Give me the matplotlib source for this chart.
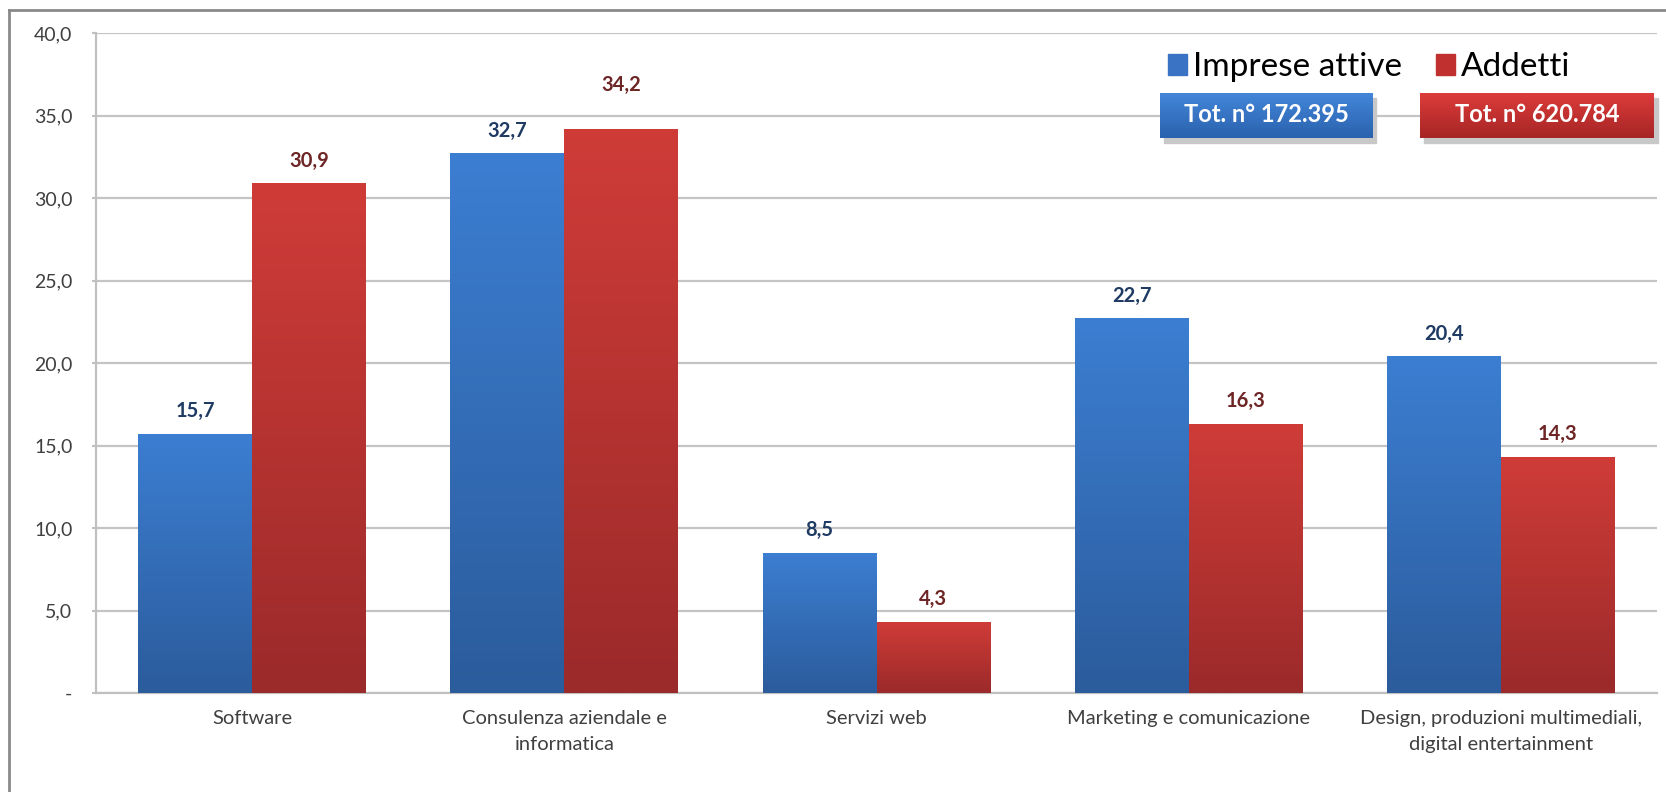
import numpy as np
import matplotlib
matplotlib.use("Agg")
import matplotlib.pyplot as plt
from matplotlib.colors import LinearSegmentedColormap
from matplotlib.patches import Rectangle
from matplotlib.lines import Line2D

plt.rcParams['font.family'] = ['Lato', 'DejaVu Sans']

categories = ['Software', 'Consulenza aziendale e\ninformatica', 'Servizi web',
              'Marketing e comunicazione', 'Design, produzioni multimediali,\ndigital entertainment']
imprese = [15.7, 32.7, 8.5, 22.7, 20.4]
addetti = [30.9, 34.2, 4.3, 16.3, 14.3]
series_names = ['Imprese attive', 'Addetti']
totals = ['Tot. n° 172.395', 'Tot. n° 620.784']

W, H = 1666, 792
fig = plt.figure(figsize=(W / 100, H / 100), dpi=100)
ax = fig.add_axes([96 / W, 1 - 693 / H, (1657 - 96) / W, (693 - 33) / H])

blue_cmap = LinearSegmentedColormap.from_list('b', ['#2b5c9c', '#3c7ed2'])
red_cmap = LinearSegmentedColormap.from_list('r', ['#9b2a2a', '#cf3c38'])
grad = np.linspace(0, 1, 256).reshape(-1, 1)

x = np.arange(len(categories))
w = 0.365
b1 = ax.bar(x - w / 2, imprese, w, color='#3a72c4', zorder=2)
b2 = ax.bar(x + w / 2, addetti, w, color='#c0302e', zorder=2)

# gradient fill, clipped to each bar
for bars, cmap in [(b1, blue_cmap), (b2, red_cmap)]:
    for bar in bars:
        x0 = bar.get_x()
        im = ax.imshow(grad, extent=[x0, x0 + bar.get_width(), 0, bar.get_height()],
                       origin='lower', aspect='auto', cmap=cmap, zorder=3)
        im.set_clip_path(bar)

# value labels (the 34,2 label sits higher in the original, above the gridline)
for k, (bars, col) in enumerate([(b1, '#1f3a63'), (b2, '#6e2525')]):
    for i, bar in enumerate(bars):
        v = bar.get_height()
        dy = 27 if (k == 1 and i == 1) else 12
        ax.annotate(f'{v:.1f}'.replace('.', ','), (bar.get_x() + bar.get_width() / 2, v),
                    xytext=(0, dy), textcoords='offset points', ha='center', va='baseline',
                    fontsize=14.5, fontweight='bold', color=col, zorder=4)

ax.set_xlim(-0.5, len(categories) - 0.5)
ax.set_ylim(0, 40)
ax.set_yticks(np.arange(0, 41, 5))
ax.yaxis.set_major_formatter(plt.FuncFormatter(
    lambda v, p: '-' if v == 0 else f'{v:.1f}'.replace('.', ',')))
ax.set_xticks(x)
ax.set_xticklabels(categories, fontsize=14.5, color='#404040', linespacing=1.7)
ax.tick_params(axis='x', length=0, pad=12)
ax.tick_params(axis='y', labelsize=14, labelcolor='#404040', length=3, color='#c0c0c0',
               width=1.5, pad=14)
ax.grid(axis='y', color='#c4c4c4', linewidth=1.6, zorder=0)
ax.set_axisbelow(True)
for s in ['top', 'right']:
    ax.spines[s].set_visible(False)
for s in ['left', 'bottom']:
    ax.spines[s].set_color('#c0c0c0')
    ax.spines[s].set_linewidth(1.6)

# legend
handles = [Rectangle((0, 0), 1, 1, color='#3a72c4'), Rectangle((0, 0), 1, 1, color='#c0302e')]
fig.legend(handles, series_names, loc='center left', bbox_to_anchor=(1168 / W, 1 - 67 / H),
           ncol=2, frameon=False, fontsize=24, handlelength=0.58, handleheight=0.58,
           handletextpad=0.18, columnspacing=1.0, borderpad=0, borderaxespad=0)

# total boxes with gradient and shadow
def total_box(x0, x1, y0, y1, cmap, label):
    fig.add_artist(Rectangle(((x0 + 4) / W, 1 - (y1 + 5) / H), (x1 - x0) / W, (y1 - y0) / H,
                             transform=fig.transFigure, color='#c8c8c8', zorder=0.5))
    bax = fig.add_axes([x0 / W, 1 - y1 / H, (x1 - x0) / W, (y1 - y0) / H], zorder=1)
    bax.imshow(grad, origin='lower', aspect='auto', cmap=cmap, extent=[0, 1, 0, 1])
    bax.set_axis_off()
    bax.text(0.5, 0.52, label, ha='center', va='center', fontsize=17, fontweight='bold',
             color='white', transform=bax.transAxes)

total_box(1160, 1372, 93, 138, LinearSegmentedColormap.from_list('bb', ['#2a62ae', '#4386d8']), totals[0])
total_box(1420, 1654, 93, 138, LinearSegmentedColormap.from_list('rb', ['#a62525', '#dc3c3a']), totals[1])

# outer frame (left and top edges)
fig.add_artist(Line2D([9 / W, 9 / W], [0, 1 - 10 / H], transform=fig.transFigure,
                      color='#8a8a8a', linewidth=2))
fig.add_artist(Line2D([9 / W, 1], [1 - 10 / H, 1 - 10 / H], transform=fig.transFigure,
                      color='#8a8a8a', linewidth=2))

fig.savefig('out.png', dpi=100, facecolor='white')
